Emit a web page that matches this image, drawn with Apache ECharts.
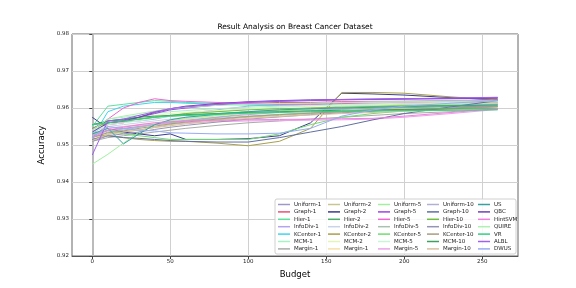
<!DOCTYPE html>
<html><head><meta charset="utf-8">
<script src="https://cdn.jsdelivr.net/npm/echarts@6/dist/echarts.min.js"></script>
<style>html,body{margin:0;padding:0;background:#fff}#c{width:576px;height:288px}</style>
</head><body><div id="c"></div>
<script>
const budgets = [0,10,20,30,40,50,60,80,100,120,140,160,180,200,230,260];
const xTicks = [0,50,100,150,200,250];
const seriesNames = [
 'Uniform-1','Graph-1','Hier-1','InfoDiv-1','KCenter-1','MCM-1','Margin-1',
 'Uniform-2','Graph-2','Hier-2','InfoDiv-2','KCenter-2','MCM-2','Margin-1 ',
 'Uniform-5','Graph-5','Hier-5','InfoDiv-5','KCenter-5','MCM-5','Margin-5',
 'Uniform-10','Graph-10','Hier-10','InfoDiv-10','KCenter-10','MCM-10','Margin-10',
 'US','QBC','HintSVM','QUIRE','VR','ALBL','DWUS'];
const seriesColors = [
 '#9c98c8','#e8507a','#5ee0a0','#b4a4f0','#40d4ec','#a4f4c4','#a8aca8',
 '#c8c690','#3a3a8e','#4cae6c','#c8d4ea','#a8a048','#e4f4b8','#f4e0a8',
 '#a0f0a0','#a040e4','#f064d4','#a8c2b0','#70dc70','#c8f4d8','#eaa2ea',
 '#b0b0d4','#6070a0','#70c040','#9494b4','#a89c80','#40a060','#d8c0a0',
 '#38a0a0','#7040b4','#f080e0','#b0f0b0','#30d080','#a060f0','#98acf4'];
const accuracy = [
 [0.9525,0.9540,0.9545,0.9550,0.9555,0.9560,0.9565,0.9575,0.9585,0.9590,0.9595,0.9600,0.9603,0.9605,0.9608,0.9612],
 [0.9520,0.9555,0.9560,0.9575,0.9590,0.9598,0.9603,0.9608,0.9612,0.9615,0.9615,0.9617,0.9618,0.9618,0.9619,0.9620],
 [0.9550,0.9605,0.9610,0.9615,0.9620,0.9618,0.9615,0.9612,0.9610,0.9608,0.9608,0.9610,0.9610,0.9612,0.9613,0.9615],
 [0.9530,0.9560,0.9562,0.9565,0.9570,0.9578,0.9585,0.9595,0.9605,0.9610,0.9612,0.9615,0.9617,0.9618,0.9620,0.9622],
 [0.9520,0.9590,0.9605,0.9610,0.9615,0.9615,0.9613,0.9610,0.9608,0.9607,0.9607,0.9608,0.9609,0.9610,0.9612,0.9614],
 [0.9535,0.9570,0.9575,0.9580,0.9585,0.9590,0.9593,0.9598,0.9602,0.9605,0.9607,0.9608,0.9610,0.9611,0.9612,0.9613],
 [0.9510,0.9520,0.9525,0.9530,0.9535,0.9540,0.9545,0.9553,0.9560,0.9565,0.9570,0.9575,0.9580,0.9585,0.9590,0.9598],
 [0.9515,0.9530,0.9535,0.9540,0.9548,0.9555,0.9560,0.9568,0.9575,0.9580,0.9585,0.9590,0.9595,0.9600,0.9605,0.9610],
 [0.9575,0.9545,0.9535,0.9530,0.9525,0.9530,0.9515,0.9515,0.9517,0.9525,0.9560,0.9640,0.9638,0.9635,0.9628,0.9622],
 [0.9555,0.9560,0.9565,0.9570,0.9575,0.9578,0.9580,0.9585,0.9590,0.9593,0.9595,0.9598,0.9600,0.9602,0.9603,0.9605],
 [0.9535,0.9550,0.9555,0.9560,0.9565,0.9570,0.9575,0.9582,0.9590,0.9595,0.9600,0.9605,0.9608,0.9610,0.9612,0.9615],
 [0.9525,0.9525,0.9520,0.9515,0.9512,0.9510,0.9510,0.9505,0.9498,0.9510,0.9545,0.9642,0.9642,0.9640,0.9630,0.9622],
 [0.9540,0.9565,0.9570,0.9575,0.9580,0.9585,0.9588,0.9593,0.9598,0.9602,0.9605,0.9607,0.9609,0.9611,0.9613,0.9615],
 [0.9530,0.9545,0.9550,0.9555,0.9560,0.9565,0.9570,0.9578,0.9585,0.9590,0.9595,0.9600,0.9603,0.9606,0.9609,0.9612],
 [0.9448,0.9475,0.9505,0.9535,0.9555,0.9565,0.9572,0.9580,0.9588,0.9593,0.9598,0.9602,0.9605,0.9608,0.9610,0.9612],
 [0.9545,0.9565,0.9568,0.9575,0.9585,0.9595,0.9600,0.9608,0.9615,0.9618,0.9620,0.9622,0.9623,0.9624,0.9625,0.9626],
 [0.9540,0.9570,0.9600,0.9615,0.9625,0.9620,0.9618,0.9615,0.9612,0.9610,0.9610,0.9612,0.9613,0.9614,0.9615,0.9616],
 [0.9520,0.9535,0.9540,0.9548,0.9555,0.9560,0.9565,0.9572,0.9578,0.9583,0.9587,0.9590,0.9593,0.9596,0.9600,0.9604],
 [0.9530,0.9540,0.9530,0.9525,0.9520,0.9515,0.9515,0.9515,0.9515,0.9530,0.9555,0.9575,0.9585,0.9592,0.9598,0.9603],
 [0.9535,0.9555,0.9560,0.9565,0.9572,0.9578,0.9583,0.9590,0.9597,0.9602,0.9606,0.9609,0.9611,0.9613,0.9615,0.9617],
 [0.9525,0.9545,0.9550,0.9553,0.9556,0.9558,0.9560,0.9563,0.9565,0.9566,0.9567,0.9568,0.9570,0.9575,0.9585,0.9596],
 [0.9528,0.9538,0.9543,0.9549,0.9556,0.9562,0.9567,0.9575,0.9582,0.9588,0.9593,0.9597,0.9601,0.9604,0.9607,0.9610],
 [0.9515,0.9525,0.9520,0.9518,0.9515,0.9512,0.9510,0.9508,0.9508,0.9520,0.9535,0.9550,0.9568,0.9585,0.9603,0.9620],
 [0.9545,0.9560,0.9565,0.9570,0.9575,0.9580,0.9585,0.9590,0.9595,0.9598,0.9600,0.9602,0.9604,0.9606,0.9607,0.9608],
 [0.9510,0.9525,0.9530,0.9535,0.9542,0.9548,0.9553,0.9562,0.9570,0.9576,0.9582,0.9587,0.9591,0.9595,0.9600,0.9605],
 [0.9520,0.9533,0.9538,0.9545,0.9551,0.9557,0.9562,0.9570,0.9577,0.9582,0.9586,0.9590,0.9593,0.9596,0.9599,0.9603],
 [0.9555,0.9565,0.9570,0.9575,0.9578,0.9580,0.9582,0.9585,0.9588,0.9590,0.9592,0.9594,0.9595,0.9596,0.9597,0.9598],
 [0.9512,0.9528,0.9535,0.9541,0.9547,0.9552,0.9557,0.9565,0.9572,0.9577,0.9581,0.9585,0.9588,0.9591,0.9594,0.9597],
 [0.9530,0.9545,0.9503,0.9530,0.9555,0.9568,0.9575,0.9583,0.9590,0.9595,0.9598,0.9600,0.9602,0.9604,0.9606,0.9608],
 [0.9535,0.9560,0.9565,0.9575,0.9588,0.9598,0.9605,0.9612,0.9617,0.9620,0.9622,0.9623,0.9624,0.9625,0.9626,0.9628],
 [0.9520,0.9540,0.9548,0.9555,0.9560,0.9563,0.9565,0.9567,0.9568,0.9569,0.9570,0.9571,0.9572,0.9578,0.9588,0.9598],
 [0.9540,0.9570,0.9578,0.9585,0.9592,0.9598,0.9602,0.9607,0.9610,0.9612,0.9613,0.9615,0.9616,0.9617,0.9618,0.9619],
 [0.9555,0.9560,0.9565,0.9570,0.9575,0.9578,0.9580,0.9583,0.9586,0.9588,0.9590,0.9591,0.9592,0.9593,0.9594,0.9595],
 [0.9473,0.9565,0.9570,0.9580,0.9590,0.9598,0.9603,0.9610,0.9616,0.9619,0.9621,0.9623,0.9624,0.9625,0.9627,0.9629],
 [0.9520,0.9550,0.9545,0.9540,0.9538,0.9533,0.9532,0.9530,0.9530,0.9532,0.9545,0.9578,0.9595,0.9605,0.9613,0.9620]
];

const FONT = 'DejaVu Sans';
const chart = echarts.init(document.getElementById('c'), null, {renderer:'canvas'});
const series = seriesNames.map((n,i)=>({
  name:n, type:'line', showSymbol:false, symbol:'none', animation:false,
  color:seriesColors[i], lineStyle:{width:1, color:seriesColors[i]},
  data: budgets.map((b,j)=>[b, accuracy[i][j]])
}));
const colLefts = [278,328,378,427,478];
const legends = colLefts.map((l,c)=>({
  orient:'vertical', left:l, top:201, padding:0, itemGap:0.4,
  icon:'rect', itemWidth:12, itemHeight:1.5,
  textStyle:{fontFamily:FONT, fontSize:5.5, color:'#222', lineHeight:7, padding:[0,0,0,-1]},
  data: seriesNames.slice(c*7, c*7+7)
}));
chart.setOption({
  animation:false,
  backgroundColor:'#fff',
  title:{text:'Result Analysis on Breast Cancer Dataset', left:295, textAlign:'center', top:23, padding:0,
    textStyle:{fontFamily:FONT, fontSize:7.5, fontWeight:'normal', color:'#000'}},
  graphic:[{type:'rect', shape:{x:275, y:199, width:241, height:55, r:2},
    style:{fill:'rgba(255,255,255,0.85)', stroke:'#d0d0d0', lineWidth:1}, z:90}],
  legend: legends.map(l=>Object.assign(l,{z:100})),
  grid:{left:72, right:58, top:34, bottom:32, show:true, borderColor:'#666', borderWidth:1},
  xAxis:{type:'value', min:-13, max:273,
    name:'Budget', nameLocation:'middle', nameGap:11,
    nameTextStyle:{fontFamily:FONT, fontSize:8.5, color:'#000'},
    axisLine:{lineStyle:{color:'#555', width:1}},
    axisTick:{show:true, length:3, lineStyle:{color:'#444'}, customValues:xTicks},
    axisLabel:{fontFamily:FONT, fontSize:5.5, color:'#222', margin:3, customValues:xTicks},
    splitLine:{show:true, lineStyle:{color:'#d0d0d0', width:1}}},
  yAxis:{type:'value', min:0.92, max:0.98, interval:0.01,
    name:'Accuracy', nameLocation:'middle', nameGap:13,
    nameTextStyle:{fontFamily:FONT, fontSize:8.5, color:'#000'},
    axisLine:{show:true, lineStyle:{color:'#bbb', width:2}},
    axisTick:{show:true, length:3, lineStyle:{color:'#444'}},
    axisLabel:{fontFamily:FONT, fontSize:5.5, color:'#222', margin:3, formatter:v=>v.toFixed(2)},
    splitLine:{show:true, lineStyle:{color:'#d0d0d0', width:1}}},
  series: series
});
</script></body></html>
